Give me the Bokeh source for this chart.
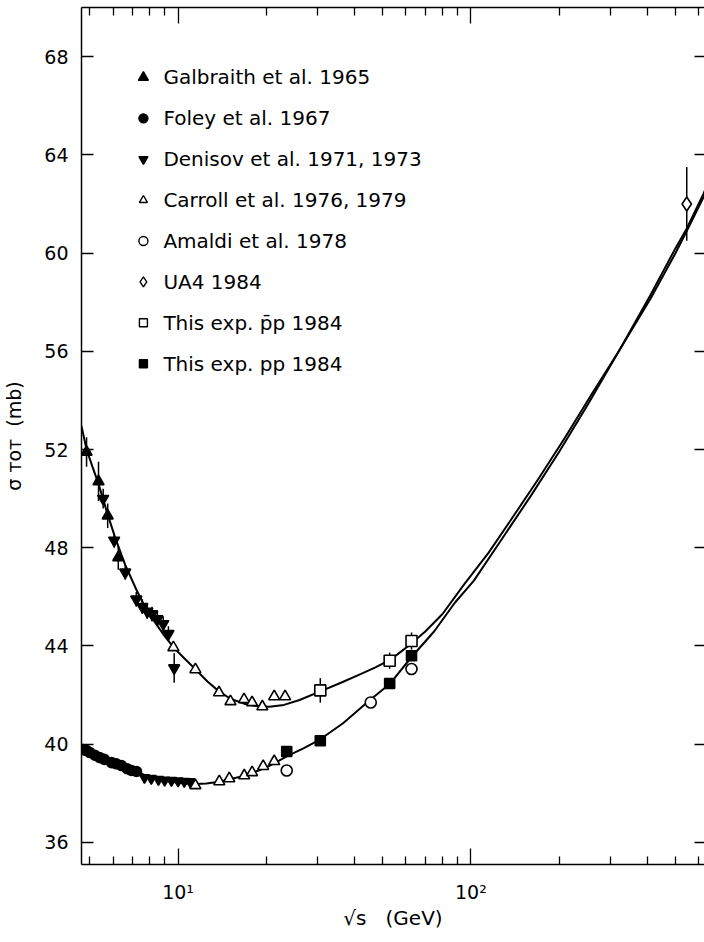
import numpy as np
from bokeh.plotting import figure
from bokeh.models import FixedTicker, LinearAxis, LogAxis, Range1d
from bokeh.core.properties import value
from bokeh.embed import file_html
from bokeh.resources import INLINE

FONT = "DejaVu Sans"

# ---------------------------------------------------------------- data
# sqrt(s) in GeV, sigma_tot in mb

# Galbraith et al. 1965 (pbar p)
galbraith_x = [4.87, 5.35, 5.75, 6.25]
galbraith_y = [51.9, 50.7, 49.3, 47.6]
galbraith_err = [0.6, 0.8, 0.5, 0.5]

# Foley et al. 1967 (pp)
foley_x = [4.75, 4.87, 5.0, 5.2, 5.39, 5.6, 5.93, 6.15, 6.41, 6.7, 6.93, 7.21]
foley_y = [39.78, 39.74, 39.66, 39.55, 39.46, 39.38, 39.25, 39.2, 39.13, 39.0, 38.93, 38.89]

# Denisov et al. 1971, 1973 (pbar p, pp)
denisov_pbar_x = [5.55, 6.05, 6.6, 7.2, 7.55, 7.85, 8.15, 8.5, 8.9, 9.27, 9.7]
denisov_pbar_y = [50.0, 48.3, 47.0, 45.9, 45.6, 45.4, 45.3, 45.1, 44.9, 44.5, 43.1]
denisov_pbar_err = [0.4, 0.3, 0.3, 0.3, 0.3, 0.3, 0.3, 0.3, 0.3, 0.3, 0.6]
denisov_pp_x = [7.68, 8.1, 8.57, 9.0, 9.49, 10.0, 10.5, 11.0]
denisov_pp_y = [38.64, 38.6, 38.56, 38.53, 38.52, 38.5, 38.48, 38.47]

# Carroll et al. 1976, 1979 (pbar p, pp)
carroll_pbar_x = [9.64, 11.46, 13.8, 15.1, 16.8, 17.9, 19.4, 21.3, 23.2]
carroll_pbar_y = [43.94, 43.04, 42.1, 41.74, 41.82, 41.7, 41.53, 41.94, 41.94]
carroll_pp_x = [11.46, 13.83, 14.96, 16.83, 17.9, 19.53, 21.3]
carroll_pp_y = [38.32, 38.48, 38.6, 38.72, 38.85, 39.1, 39.3]

# Amaldi et al. 1978 (pp)
amaldi_x = [23.5, 45.5, 62.7]
amaldi_y = [38.93, 41.7, 43.06]

# UA4 1984 (pbar p)
ua4_x = [546.0]
ua4_y = [62.0]
ua4_err = [1.5]

# This experiment 1984
this_pbar_x = [30.6, 52.8, 62.7]
this_pbar_y = [42.19, 43.4, 44.2]
this_pbar_err = [0.5, 0.33, 0.35]
this_pp_x = [23.5, 30.6, 52.8, 62.7]
this_pp_y = [39.7, 40.14, 42.47, 43.6]

# fitted curves
fit_pbar_x = [4.68, 4.87, 5.1, 5.35, 5.7, 6.1, 6.6, 7.2, 7.7, 8.3, 9.0, 9.64, 10.5,
              11.46, 12.6, 13.8, 15.1, 16.8, 18.5, 20.5, 23.0, 26.0, 30.6, 36.0,
              42.0, 47.0, 52.8, 57.0, 62.7, 70.0, 80.0, 94.7, 115.0, 140.0, 170.0,
              210.0, 260.0, 320.0, 411.0, 500.0, 546.0, 622.0, 660.0]
fit_pbar_y = [52.95, 52.0, 51.3, 50.6, 49.5, 48.4, 47.3, 46.3, 45.6, 45.0, 44.4, 43.95, 43.5,
              43.05, 42.55, 42.15, 41.85, 41.65, 41.55, 41.52, 41.6, 41.8, 42.15, 42.5,
              42.85, 43.12, 43.42, 43.72, 44.1, 44.6, 45.3, 46.5, 47.8, 49.3, 50.8,
              52.5, 54.3, 56.0, 58.15, 60.0, 60.9, 62.26, 62.9]
fit_pp_x = [4.68, 4.87, 5.39, 5.93, 6.41, 6.93, 7.68, 8.57, 9.49, 10.5, 11.46, 12.5,
            13.83, 14.96, 16.83, 17.9, 19.53, 21.3, 23.5, 27.0, 30.6, 36.6, 44.7, 52.8,
            62.7, 75.0, 88.0, 102.4, 130.0, 160.0, 200.0, 250.0, 320.0, 411.0, 500.0,
            546.0, 622.0, 660.0]
fit_pp_y = [39.85, 39.75, 39.5, 39.28, 39.12, 38.97, 38.75, 38.58, 38.47, 38.4, 38.38, 38.4,
            38.47, 38.56, 38.72, 38.83, 39.0, 39.22, 39.5, 39.85, 40.2, 40.85, 41.75, 42.45,
            43.55, 44.6, 45.75, 46.66, 48.5, 50.1, 51.9, 53.8, 56.0, 58.3, 60.2,
            61.0, 62.4, 63.1]

# legend entries: marker, fill, label
legend_markers = ["triangle", "circle", "inverted_triangle", "triangle", "circle",
                  "diamond", "square", "square"]
legend_filled = [True, True, True, False, False, False, False, True]
legend_sizes = [10, 9, 9, 8, 9, 10, 8, 8]
legend_labels = ["Galbraith et al. 1965", "Foley et al. 1967",
                 "Denisov et al. 1971, 1973", "Carroll et al. 1976, 1979",
                 "Amaldi et al. 1978", "UA4 1984",
                 "This exp. p\u0304p 1984", "This exp. pp 1984"]

y_ticks = [36, 40, 44, 48, 52, 56, 60, 64, 68]
x_major = [10, 100]
x_minor = [5, 6, 7, 8, 9, 20, 30, 40, 50, 60, 70, 80, 90, 200, 300, 400, 500, 600]

# ---------------------------------------------------------------- figure
X0, X1 = 4.68, 627.8
Y0, Y1 = 35.1, 70.0

p = figure(width=704, height=942, x_axis_type="log",
           x_range=Range1d(X0, X1), y_range=Range1d(Y0, Y1),
           output_backend="svg", toolbar_location=None,
           min_border_left=80, min_border_right=0,
           min_border_top=7, min_border_bottom=78)
p.grid.visible = False
p.outline_line_color = None
p.background_fill_color = "white"
p.border_fill_color = "white"

xticker = FixedTicker(ticks=x_major, minor_ticks=x_minor)
yticker = FixedTicker(ticks=y_ticks, minor_ticks=[])

def style_axis(ax):
    ax.axis_line_color = "black"
    ax.axis_line_width = 1.5
    ax.major_tick_line_color = "black"
    ax.minor_tick_line_color = "black"
    ax.major_tick_line_width = 1.3
    ax.minor_tick_line_width = 1.3
    ax.major_tick_out = 0
    ax.minor_tick_out = 0
    ax.major_label_text_font = FONT
    ax.major_label_text_color = "black"
    ax.axis_label_text_font = FONT
    ax.axis_label_text_font_style = "normal"
    ax.axis_label_text_color = "black"

def hide_labels(ax):
    ax.major_label_text_font_size = "1px"
    ax.major_label_text_color = None
    ax.major_label_standoff = 0

# bottom
bx = p.xaxis[0]
bx.ticker = xticker
style_axis(bx)
bx.major_tick_in = 16
bx.minor_tick_in = 8
bx.major_label_overrides = {10: "10\u00b9", 100: "10\u00b2"}
bx.major_label_text_font_size = "19px"
bx.major_label_standoff = 16
bx.axis_label = "\u221as\u00a0\u00a0\u00a0(GeV)"
bx.axis_label_text_font_size = "20px"
bx.axis_label_standoff = 0

# left
ly = p.yaxis[0]
ly.ticker = yticker
style_axis(ly)
ly.major_tick_in = 12
ly.major_label_text_font_size = "19px"
ly.major_label_standoff = 13
ly.axis_label = "\u03c3\u00a0\u1d1b\u1d0f\u1d1b\u00a0\u00a0(mb)"
ly.axis_label_text_font_size = "19px"
ly.axis_label_standoff = 16

# top
tx = LogAxis(ticker=xticker)
style_axis(tx)
tx.major_tick_in = 16
tx.minor_tick_in = 8
hide_labels(tx)
p.add_layout(tx, "above")

# right
ry = LinearAxis(ticker=yticker)
style_axis(ry)
ry.axis_line_color = None
ry.major_tick_in = 10
hide_labels(ry)
p.add_layout(ry, "right")

# ---------------------------------------------------------------- curves
p.line(fit_pbar_x, fit_pbar_y, line_color="black", line_width=2, line_join="round")
p.line(fit_pp_x, fit_pp_y, line_color="black", line_width=2, line_join="round")

# ---------------------------------------------------------------- error bars
def errbars(xs, ys, es):
    xs = np.asarray(xs, float)
    ys = np.asarray(ys, float)
    es = np.asarray(es, float)
    p.segment(xs, ys - es, xs, ys + es, line_color="black", line_width=1.5)

errbars(galbraith_x, galbraith_y, galbraith_err)
errbars(denisov_pbar_x, denisov_pbar_y, denisov_pbar_err)
errbars(ua4_x, ua4_y, ua4_err)
errbars(this_pbar_x, this_pbar_y, this_pbar_err)

# ---------------------------------------------------------------- points
def pts(xs, ys, marker, size, filled):
    p.scatter(xs, ys, marker=marker, size=size, line_color="black", line_width=1.6,
              fill_color="black" if filled else "white")

pts(foley_x, foley_y, "circle", 10, True)
pts(galbraith_x, galbraith_y, "triangle", 11, True)
pts(denisov_pbar_x, denisov_pbar_y, "inverted_triangle", 11, True)
pts(denisov_pp_x, denisov_pp_y, "inverted_triangle", 10, True)
pts(carroll_pbar_x, carroll_pbar_y, "triangle", 11, False)
pts(carroll_pp_x, carroll_pp_y, "triangle", 11, False)
pts(amaldi_x, amaldi_y, "circle", 11, False)
pts(ua4_x, ua4_y, "diamond", 14, False)
pts(this_pbar_x, this_pbar_y, "square", 11, False)
pts(this_pp_x, this_pp_y, "square", 10, True)

# ---------------------------------------------------------------- legend
LEG_MX, LEG_TX = 7.615, 8.91
LEG_Y0, LEG_DY = 67.15, 1.665
leg_y = [LEG_Y0 - i * LEG_DY for i in range(len(legend_labels))]
for yy, mk, fl, sz in zip(leg_y, legend_markers, legend_filled, legend_sizes):
    p.scatter([LEG_MX], [yy], marker=mk, size=sz, line_color="black", line_width=1.4,
              fill_color="black" if fl else "white")
p.text(x=[LEG_TX] * len(legend_labels), y=leg_y, text=legend_labels,
       text_font=value(FONT), text_font_size="20px", text_baseline="middle",
       text_align="left", text_color="black")

open("out.html", "w").write(file_html(p, INLINE))
